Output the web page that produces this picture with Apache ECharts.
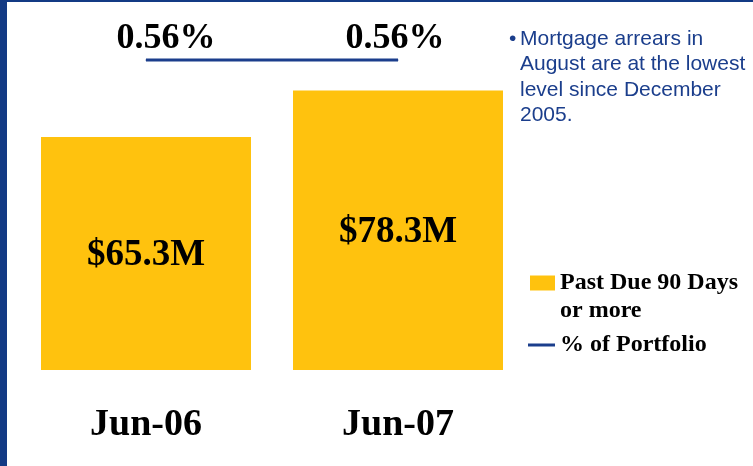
<!DOCTYPE html>
<html>
<head>
<meta charset="utf-8">
<script src="https://cdn.jsdelivr.net/npm/echarts@6/dist/echarts.min.js"></script>
<style>
html,body{margin:0;padding:0;background:#fff;}
#chart{width:753px;height:466px;}
</style>
</head>
<body>
<div id="chart"></div>
<script>
const categories = ['Jun-06', 'Jun-07'];
const pastDueValues = [65.3, 78.3];          // $ millions
const portfolioPct = [0.56, 0.56];           // % of portfolio
const barLabels = ['$65.3M', '$78.3M'];
const noteLines = ['Mortgage arrears in', 'August are at the lowest', 'level since December', '2005.'];

const YELLOW = '#FFC20E';
const BLUE = '#1B3E8C';
const BORDER = '#133A84';
const SERIF = '"Liberation Serif", "Times New Roman", serif';

const chart = echarts.init(document.getElementById('chart'));
chart.setOption({
  animation: false,
  backgroundColor: '#fff',
  grid: { left: 20, width: 504, top: 13, bottom: 96 },
  xAxis: {
    type: 'category',
    data: categories,
    axisLine: { show: false },
    axisTick: { show: false },
    axisLabel: { margin: 36, color: '#000', fontFamily: SERIF, fontWeight: 'bold', fontSize: 38 }
  },
  yAxis: [
    { type: 'value', min: 0, max: 100, show: false, splitLine: { show: false } },
    { type: 'value', min: 0, max: 0.645, show: false, splitLine: { show: false } }
  ],
  legend: [
    {
      data: [{ name: 'Past Due 90 Days', icon: 'rect' }],
      left: 530, top: 271, itemWidth: 25, itemHeight: 15, padding: 0,
      textStyle: { color: '#000', fontFamily: SERIF, fontWeight: 'bold', fontSize: 24 },
      selectedMode: false
    },
    {
      data: [{ name: '% of Portfolio', icon: 'rect' }],
      left: 528, top: 333, itemWidth: 27, itemHeight: 3, padding: 0,
      textStyle: { color: '#000', fontFamily: SERIF, fontWeight: 'bold', fontSize: 24 },
      selectedMode: false
    }
  ],
  series: [
    {
      name: 'Past Due 90 Days',
      type: 'bar',
      data: pastDueValues,
      barWidth: 210,
      itemStyle: { color: YELLOW },
      label: {
        show: true, position: 'inside', offset: [0, 2],
        formatter: p => barLabels[p.dataIndex],
        color: '#000', fontFamily: SERIF, fontWeight: 'bold', fontSize: 37
      }
    },
    {
      name: '% of Portfolio',
      type: 'line',
      yAxisIndex: 1,
      data: portfolioPct.map((v, i) => ({
        value: v,
        label: { offset: i === 0 ? [20, 2] : [-3, 2] }
      })),
      symbol: 'circle',
      symbolSize: 1,
      lineStyle: { color: BLUE, width: 3 },
      itemStyle: { color: BLUE },
      label: {
        show: true, position: 'top', distance: 5,
        formatter: p => p.value.toFixed(2) + '%',
        color: '#000', fontFamily: SERIF, fontWeight: 'bold', fontSize: 36
      }
    }
  ],
  graphic: [
    { type: 'rect', left: 0, top: 0, shape: { width: 7, height: 466 }, style: { fill: BORDER }, silent: true },
    { type: 'rect', left: 0, top: 0, shape: { width: 753, height: 2 }, style: { fill: BORDER }, silent: true },
    { type: 'text', left: 560, top: 299, style: { text: 'or more', fill: '#000', font: 'bold 24px ' + SERIF } },
    { type: 'text', left: 509, top: 26, style: { text: '•', fill: BLUE, font: '21px "Liberation Sans", Arial, sans-serif', lineHeight: 25.5 } },
    { type: 'text', left: 520, top: 26, style: { text: noteLines.join('\n'), fill: BLUE, font: '21px "Liberation Sans", Arial, sans-serif', lineHeight: 25.5 } }
  ]
});
</script>
</body>
</html>
